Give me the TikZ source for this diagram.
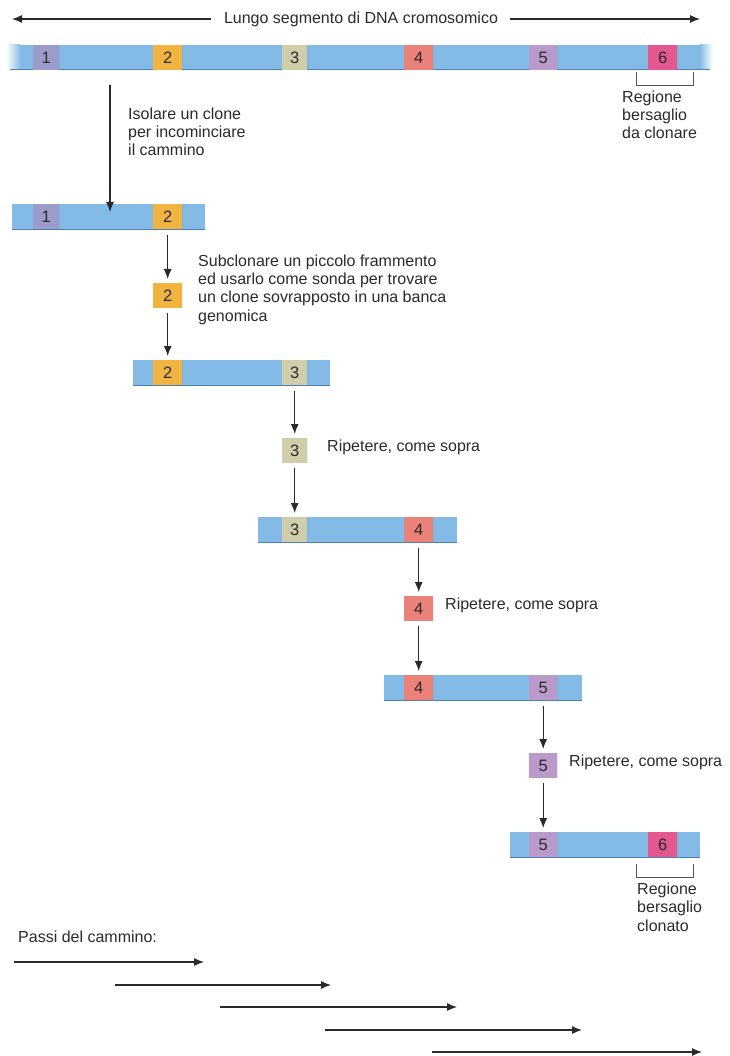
\documentclass[tikz,border=0pt]{standalone}
\usepackage{fontspec}
\setmainfont{Liberation Sans}
\usetikzlibrary{arrows.meta}
\definecolor{barblue}{HTML}{84BBE6}
\definecolor{barline}{HTML}{4C7FB2}
\definecolor{c1}{HTML}{9C9CCB}
\definecolor{c2}{HTML}{F2B441}
\definecolor{c3}{HTML}{CFCDAA}
\definecolor{c4}{HTML}{EA8279}
\definecolor{c5}{HTML}{BA9ACA}
\definecolor{c6}{HTML}{E2588F}
\definecolor{ink}{HTML}{2A2A2A}
\begin{document}
\begin{tikzpicture}[x=1pt,y=-1pt,
  txt/.style={inner sep=0pt, anchor=base west, align=left, text=ink,
    font=\fontsize{16}{18.3}\selectfont},
  bar/.style={draw=none, fill=barblue, inner sep=0pt, anchor=north west,
    minimum height=25pt},
  seg/.style={draw=none, inner sep=0pt, anchor=north west, minimum height=25pt,
    minimum width=27pt, text=ink, font=\fontsize{16.5}{18}\selectfont,
    path picture={\draw[black!60, line width=1.2pt]
      (path picture bounding box.north east) -- (path picture bounding box.south east);}},
  edge/.style={barline, line width=1pt},
  arr/.style={ink, line width=1.1pt, -{Latex[length=10pt,width=8pt]}},
  brk/.style={ink!80, line width=0.8pt}
]
\useasboundingbox (0,0) rectangle (729,1056);

% title
\node[txt, anchor=base] (title) at (361,24) {Lungo segmento di DNA cromosomico};
\coordinate (tl) at (12,19);
\coordinate (tr) at (700,19);
\draw[arr] (title.west |- tl) ++(-13,0) coordinate (tla) -- (tl);
\draw[arr] (title.east |- tr) ++(12,0) coordinate (tra) -- (tr);

% main chromosome
\node[bar, minimum width=680pt] (main) at (20,45) {};
\shade[left color=white, right color=barblue] (6,45) rectangle (20.5,70);
\shade[left color=barblue, right color=white] (699.5,45) rectangle (713,70);
\draw[edge] (10,70) -- (710,70);
\node[seg, fill=c1, minimum width=26pt] (m1) at (33,45) {1};
\node[seg, fill=c2, minimum width=29pt] (m2) at (153,45) {2};
\node[seg, fill=c3, minimum width=25pt] (m3) at (282,45) {3};
\node[seg, fill=c4, minimum width=29pt] (m4) at (404,45) {4};
\node[seg, fill=c5, minimum width=28pt] (m5) at (529,45) {5};
\node[seg, fill=c6, minimum width=29pt] (m6) at (648,45) {6};
\draw[brk] (636,72) -- (636,85) -- (693,85) -- (693,72);
\node[txt] (reg1) at (622,139) {Regione\\bersaglio\\da clonare};

% step 1
\coordinate (s1) at (110,85);
\node[bar, minimum width=193pt] (bar2) at (12,204) {};
\draw[edge] (bar2.south west) -- (bar2.south east);
\node[seg, fill=c1, minimum width=26pt] (b2a) at (33,204) {1};
\node[seg, fill=c2, minimum width=29pt] (b2b) at (153,204) {2};
\draw[arr] (s1) -- ([yshift=-8pt]s1 |- bar2.north);
\node[txt] (t1) at (128,156) {Isolare un clone\\per incominciare\\il cammino};

% step 2
\node[seg, fill=c2, minimum width=29pt] (p2) at (153,283) {2};
\draw[arr, shorten <=6pt, shorten >=4pt] (b2b.south) -- (p2.north);
\node[txt] (t2) at (198,321) {Subclonare un piccolo frammento\\ed usarlo come sonda per trovare\\un clone sovrapposto in una banca\\genomica};
\node[bar, minimum width=197pt] (bar3) at (133,360) {};
\draw[edge] (bar3.south west) -- (bar3.south east);
\node[seg, fill=c2, minimum width=29pt] (b3a) at (153,360) {2};
\node[seg, fill=c3, minimum width=25pt] (b3b) at (282,360) {3};
\draw[arr, shorten <=5pt, shorten >=4pt] (p2.south) -- (b3a.north);

% step 3
\node[seg, fill=c3, minimum width=25pt] (p3) at (282,438) {3};
\draw[arr, shorten <=6pt, shorten >=4pt] (b3b.south) -- (p3.north);
\node[txt] (t3) at (327,451) {Ripetere, come sopra};
\node[bar, minimum width=199pt] (bar4) at (258,517) {};
\draw[edge] (bar4.south west) -- (bar4.south east);
\node[seg, fill=c3, minimum width=25pt] (b4a) at (282,517) {3};
\node[seg, fill=c4, minimum width=29pt] (b4b) at (404,517) {4};
\draw[arr, shorten <=5pt, shorten >=4pt] (p3.south) -- (b4a.north);

% step 4
\node[seg, fill=c4, minimum width=29pt] (p4) at (404,596) {4};
\draw[arr, shorten <=6pt, shorten >=4pt] (b4b.south) -- (p4.north);
\node[txt] (t4) at (445,609) {Ripetere, come sopra};
\node[bar, minimum width=198pt] (bar5) at (384,675) {};
\draw[edge] (bar5.south west) -- (bar5.south east);
\node[seg, fill=c4, minimum width=29pt] (b5a) at (404,675) {4};
\node[seg, fill=c5, minimum width=28pt] (b5b) at (529,675) {5};
\draw[arr, shorten <=5pt, shorten >=4pt] (p4.south) -- (b5a.north);

% step 5
\node[seg, fill=c5, minimum width=28pt] (p5) at (529,753) {5};
\draw[arr, shorten <=6pt, shorten >=4pt] (b5b.south) -- (p5.north);
\node[txt] (t5) at (569,766) {Ripetere, come sopra};
\node[bar, minimum width=190pt] (bar6) at (510,832) {};
\draw[edge] (bar6.south west) -- (bar6.south east);
\node[seg, fill=c5, minimum width=28pt] (b6a) at (529,832) {5};
\node[seg, fill=c6, minimum width=29pt] (b6b) at (648,832) {6};
\draw[arr, shorten <=5pt, shorten >=4pt] (p5.south) -- (b6a.north);
\draw[brk] (636,864) -- (636,877) -- (693,877) -- (693,864);
\node[txt] (reg2) at (637,931) {Regione\\bersaglio\\clonato};

% steps of the walk
\node[txt] (passi) at (18,942) {Passi del cammino:};
\coordinate (w1a) at (14,962);  \coordinate (w1b) at (204,962);
\coordinate (w2a) at (115,985); \coordinate (w2b) at (331,985);
\coordinate (w3a) at (220,1007); \coordinate (w3b) at (457,1007);
\coordinate (w4a) at (325,1030); \coordinate (w4b) at (582,1030);
\coordinate (w5a) at (432,1052); \coordinate (w5b) at (702,1052);
\foreach \i in {1,...,5} { \draw[arr] (w\i a) -- (w\i b); }
\end{tikzpicture}
\end{document}
